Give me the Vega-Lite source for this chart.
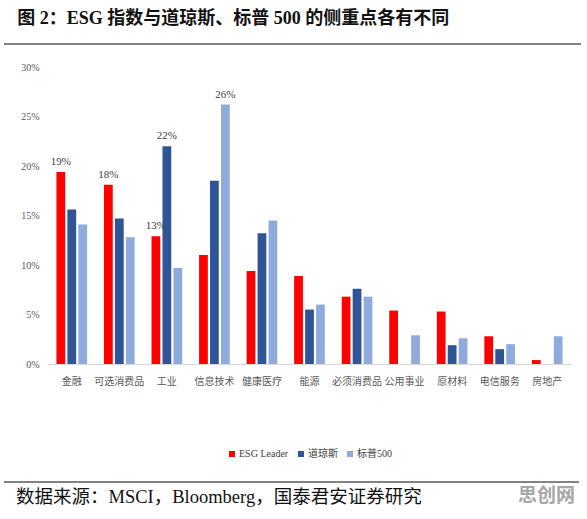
{
  "$schema": "https://vega.github.io/schema/vega-lite/v6.json",
  "background": "white",
  "padding": {"left": 3, "top": 10, "right": 5, "bottom": 5},
  "spacing": 17,
  "resolve": {"legend": {"color": "independent"}},
  "config": {
    "view": {"stroke": null},
    "font": "Liberation Serif, Noto Sans CJK SC",
    "legend": {"layout": {"bottom": {"anchor": "middle"}}}
  },
  "vconcat": [
    {
      "title": {
        "text": "图 2：ESG 指数与道琼斯、标普 500 的侧重点各有不同",
        "anchor": "start",
        "frame": "bounds",
        "font": "Liberation Serif, Noto Sans CJK SC",
        "fontSize": 18,
        "fontWeight": "bold",
        "color": "#111111",
        "offset": 4,
        "dx": 14
      },
      "width": 533,
      "height": 12,
      "data": {"values": [{"from": 0, "to": 1, "level": 0}]},
      "mark": {"type": "rule", "color": "#595959", "strokeWidth": 1.3},
      "encoding": {
        "x": {"field": "from", "type": "quantitative", "scale": {"domain": [0, 1], "range": [-44, 533]}, "axis": null},
        "x2": {"field": "to"},
        "y": {"field": "level", "type": "quantitative", "scale": {"domain": [0, 1]}, "axis": null}
      }
    },
    {
      "width": 523,
      "height": 297,
      "data": {
        "values": [
          {"sector": "金融", "index": "ESG Leader", "weight": 0.194},
          {"sector": "金融", "index": "道琼斯", "weight": 0.156},
          {"sector": "金融", "index": "标普500", "weight": 0.141},
          {"sector": "可选消费品", "index": "ESG Leader", "weight": 0.181},
          {"sector": "可选消费品", "index": "道琼斯", "weight": 0.147},
          {"sector": "可选消费品", "index": "标普500", "weight": 0.128},
          {"sector": "工业", "index": "ESG Leader", "weight": 0.129},
          {"sector": "工业", "index": "道琼斯", "weight": 0.220},
          {"sector": "工业", "index": "标普500", "weight": 0.097},
          {"sector": "信息技术", "index": "ESG Leader", "weight": 0.110},
          {"sector": "信息技术", "index": "道琼斯", "weight": 0.185},
          {"sector": "信息技术", "index": "标普500", "weight": 0.262},
          {"sector": "健康医疗", "index": "ESG Leader", "weight": 0.094},
          {"sector": "健康医疗", "index": "道琼斯", "weight": 0.132},
          {"sector": "健康医疗", "index": "标普500", "weight": 0.145},
          {"sector": "能源", "index": "ESG Leader", "weight": 0.089},
          {"sector": "能源", "index": "道琼斯", "weight": 0.055},
          {"sector": "能源", "index": "标普500", "weight": 0.060},
          {"sector": "必须消费品", "index": "ESG Leader", "weight": 0.068},
          {"sector": "必须消费品", "index": "道琼斯", "weight": 0.076},
          {"sector": "必须消费品", "index": "标普500", "weight": 0.068},
          {"sector": "公用事业", "index": "ESG Leader", "weight": 0.054},
          {"sector": "公用事业", "index": "标普500", "weight": 0.029},
          {"sector": "原材料", "index": "ESG Leader", "weight": 0.053},
          {"sector": "原材料", "index": "道琼斯", "weight": 0.019},
          {"sector": "原材料", "index": "标普500", "weight": 0.026},
          {"sector": "电信服务", "index": "ESG Leader", "weight": 0.028},
          {"sector": "电信服务", "index": "道琼斯", "weight": 0.015},
          {"sector": "电信服务", "index": "标普500", "weight": 0.020},
          {"sector": "房地产", "index": "ESG Leader", "weight": 0.004},
          {"sector": "房地产", "index": "标普500", "weight": 0.028}
        ]
      },
      "encoding": {
        "x": {
          "field": "sector",
          "type": "nominal",
          "sort": null,
          "scale": {"paddingInner": 0, "paddingOuter": 0},
          "axis": {
            "title": null,
            "labelAngle": 0,
            "ticks": false,
            "domainColor": "#d9d9d9",
            "domainWidth": 1,
            "labelFont": "Noto Sans CJK SC",
            "labelFontSize": 10,
            "labelColor": "#595959",
            "labelPadding": 12
          }
        },
        "xOffset": {
          "field": "index",
          "sort": ["ESG Leader", "道琼斯", "标普500"],
          "scale": {"paddingInner": 0.2, "paddingOuter": 0.77}
        },
        "y": {
          "field": "weight",
          "type": "quantitative",
          "scale": {"domain": [0, 0.3]},
          "axis": {
            "title": null,
            "values": [0, 0.05, 0.1, 0.15, 0.2, 0.25, 0.3],
            "format": ".0%",
            "grid": false,
            "domain": false,
            "ticks": false,
            "labelFont": "Liberation Serif",
            "labelFontSize": 10,
            "labelColor": "#595959",
            "labelPadding": 9,
            "minExtent": 44
          }
        }
      },
      "layer": [
        {
          "mark": {"type": "bar"},
          "encoding": {
            "color": {
              "field": "index",
              "type": "nominal",
              "scale": {
                "domain": ["ESG Leader", "道琼斯", "标普500"],
                "range": ["#ff0000", "#2f5597", "#8faadc"]
              },
              "legend": {
                "title": null,
                "orient": "bottom",
                "direction": "horizontal",
                "offset": 58,
                "padding": 5,
                "symbolType": "square",
                "symbolSize": 36,
                "symbolStrokeWidth": 0,
                "labelFont": "Liberation Serif, Noto Sans CJK SC",
                "labelFontSize": 10,
                "labelColor": "#404040",
                "labelOffset": 2,
                "columnPadding": 7
              }
            }
          }
        },
        {
          "transform": [
            {"filter": "(datum.index == 'ESG Leader' && indexof(['金融', '可选消费品', '工业'], datum.sector) >= 0) || (datum.index == '道琼斯' && datum.sector == '工业') || (datum.index == '标普500' && datum.sector == '信息技术')"}
          ],
          "mark": {
            "type": "text",
            "baseline": "bottom",
            "dy": -5,
            "font": "Liberation Serif",
            "fontSize": 11,
            "color": "#404040"
          },
          "encoding": {
            "text": {"field": "weight", "type": "quantitative", "format": ".0%"}
          }
        }
      ]
    },
    {
      "width": 533,
      "height": 30,
      "data": {
        "values": [
          {"from": 0, "to": 1, "level": 1, "source": "数据来源：MSCI，Bloomberg，国泰君安证券研究", "mark": "思创网"}
        ]
      },
      "encoding": {
        "y": {"field": "level", "type": "quantitative", "scale": {"domain": [0, 1]}, "axis": null}
      },
      "layer": [
        {
          "mark": {"type": "rule", "color": "#595959", "strokeWidth": 1.3},
          "encoding": {
            "x": {"field": "from", "type": "quantitative", "scale": {"domain": [0, 1], "range": [-44, 531]}, "axis": null},
            "x2": {"field": "to"}
          }
        },
        {
          "mark": {
            "type": "text",
            "align": "left",
            "baseline": "top",
            "dx": 12,
            "dy": 6,
            "font": "Liberation Serif, Noto Sans CJK SC",
            "fontSize": 18.5,
            "color": "#111111"
          },
          "encoding": {
            "x": {"field": "from", "type": "quantitative", "scale": {"domain": [0, 1], "range": [-44, 531]}, "axis": null},
            "text": {"field": "source"}
          }
        },
        {
          "mark": {
            "type": "text",
            "align": "right",
            "baseline": "top",
            "dx": -4,
            "dy": 5,
            "font": "Noto Sans CJK SC",
            "fontSize": 19,
            "fontWeight": "bold",
            "color": "#a6a6a6"
          },
          "encoding": {
            "x": {"field": "to", "type": "quantitative", "scale": {"domain": [0, 1], "range": [-44, 531]}, "axis": null},
            "text": {"field": "mark"}
          }
        }
      ]
    }
  ]
}
